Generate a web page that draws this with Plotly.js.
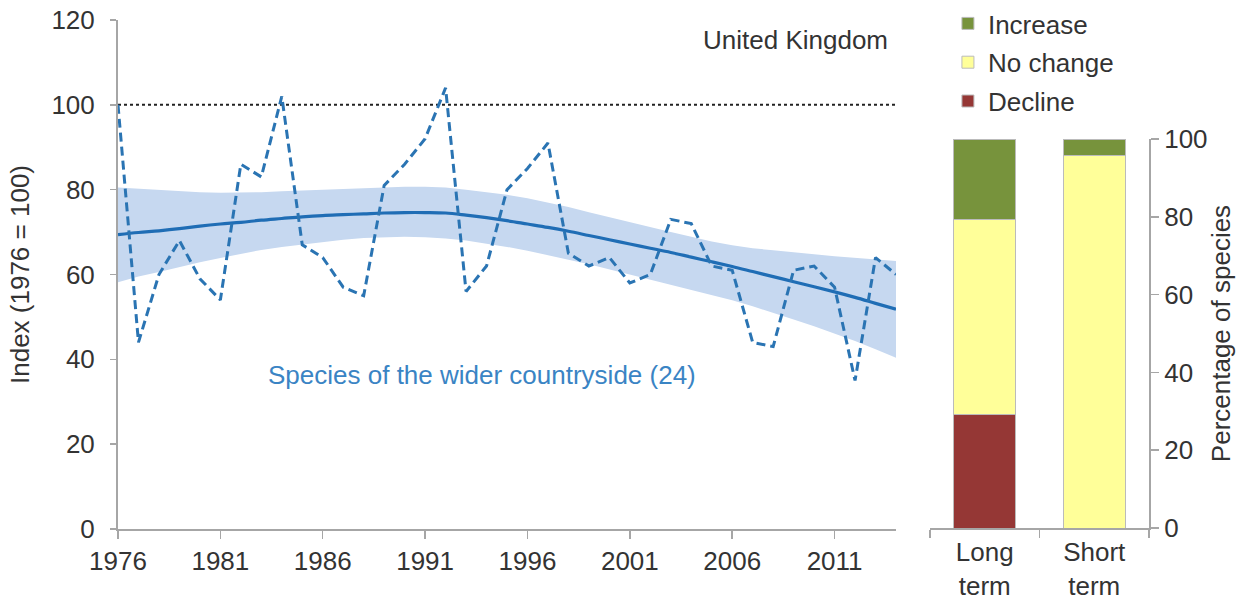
<!DOCTYPE html>
<html><head><meta charset="utf-8">
<script src="https://cdn.plot.ly/plotly-3.0.1.min.js"></script>
<style>html,body{margin:0;padding:0;background:#fff}#chart{width:1244px;height:605px}</style>
</head><body><div id="chart"></div>
<script>
const years = [1976,1977,1978,1979,1980,1981,1982,1983,1984,1985,1986,1987,1988,1989,1990,1991,1992,1993,1994,1995,1996,1997,1998,1999,2000,2001,2002,2003,2004,2005,2006,2007,2008,2009,2010,2011,2012,2013,2014];
const indexValues = [100,44,60,68,59,54,86,83,102,67,64,57,55,81,86,92,104,56,62,80,85,91,65,62,64,58,60,73,72,62,61,44,43,61,62,57,35,64,60];
const trend = [69.4,69.9,70.3,70.8,71.4,71.9,72.3,72.8,73.2,73.6,73.9,74.1,74.3,74.5,74.6,74.6,74.5,74.0,73.4,72.7,71.9,71.1,70.2,69.2,68.2,67.2,66.2,65.2,64.1,63.0,61.9,60.7,59.5,58.3,57.1,55.9,54.6,53.2,51.8];
const upper = [80.5,80.2,79.9,79.6,79.4,79.3,79.3,79.4,79.6,79.8,80.0,80.2,80.4,80.6,80.7,80.7,80.5,80.0,79.4,78.8,78.0,77.0,75.9,74.7,73.5,72.3,71.1,70.0,68.9,67.8,66.9,66.2,65.7,65.3,64.8,64.3,63.9,63.5,63.2];
const lower = [58.2,59.5,60.6,61.8,62.9,63.9,64.9,65.8,66.5,67.1,67.7,68.2,68.6,68.8,68.9,68.8,68.5,68.0,67.3,66.5,65.6,64.6,63.5,62.4,61.2,60.0,58.8,57.6,56.4,55.1,53.9,52.5,51.0,49.4,47.8,46.1,44.3,42.4,40.4];
const baseline = 100;

const barCategories = ['Long<br>term', 'Short<br>term'];
const decline = [29.2, 0];
const noChange = [50.0, 95.8];
const increase = [20.8, 4.2];

const font = 'Liberation Sans, Arial, sans-serif';
const grey = '#a6a6a6';
const txt = '#333';
const fs = 26;

const traces = [
  {x: years, y: upper, type: 'scatter', mode: 'lines', line: {width: 0, color: 'rgba(0,0,0,0)'}, showlegend: false, hoverinfo: 'skip', xaxis: 'x', yaxis: 'y'},
  {x: years, y: lower, type: 'scatter', mode: 'lines', fill: 'tonexty', fillcolor: '#c6d8f0', line: {width: 0, color: 'rgba(0,0,0,0)'}, showlegend: false, hoverinfo: 'skip', xaxis: 'x', yaxis: 'y'},
  {x: [years[0], years[years.length-1]], y: [baseline, baseline], type: 'scatter', mode: 'lines', line: {color: '#222', width: 2, dash: 'dot'}, showlegend: false, xaxis: 'x', yaxis: 'y'},
  {x: years, y: trend, type: 'scatter', mode: 'lines', line: {color: '#1f6db5', width: 3.2, shape: 'spline'}, showlegend: false, xaxis: 'x', yaxis: 'y'},
  {x: years, y: indexValues, type: 'scatter', mode: 'lines', line: {color: '#2a74b3', width: 3, dash: '9px,5px'}, showlegend: false, xaxis: 'x', yaxis: 'y'},
  {x: barCategories, y: decline, type: 'bar', name: 'Decline', legendrank: 3, marker: {color: '#953735', line: {color: '#bbbbbb', width: 1}}, xaxis: 'x2', yaxis: 'y2', legendgroup: 'd'},
  {x: barCategories, y: noChange, type: 'bar', name: 'No change', legendrank: 2, marker: {color: '#ffff99', line: {color: '#bbbbbb', width: 1}}, xaxis: 'x2', yaxis: 'y2', legendgroup: 'n'},
  {x: barCategories, y: increase, type: 'bar', name: 'Increase', legendrank: 1, marker: {color: '#77933c', line: {color: '#bbbbbb', width: 1}}, xaxis: 'x2', yaxis: 'y2', legendgroup: 'i'}
];

const layout = {
  width: 1244, height: 605,
  margin: {l: 0, r: 0, t: 0, b: 0, autoexpand: false},
  paper_bgcolor: '#fff', plot_bgcolor: '#fff',
  font: {family: font, size: fs, color: txt},
  barmode: 'stack', bargap: 0.43,
  showlegend: true,
  legend: {x: 0.762, y: 1.0, xanchor: 'left', yanchor: 'top', traceorder: 'grouped', tracegroupgap: 2,
           font: {size: fs, color: txt}, itemwidth: 30, bgcolor: 'rgba(0,0,0,0)'},
  xaxis: {domain: [118/1244, 896/1244], range: [1976, 2014], tickvals: [1976,1981,1986,1991,1996,2001,2006,2011],
          showgrid: false, zeroline: false, showline: true, linecolor: grey, linewidth: 2,
          ticks: 'outside', ticklen: 8, tickcolor: grey, tickwidth: 1.5, tickfont: {size: fs, color: txt}},
  yaxis: {domain: [(605-529)/605, (605-20)/605], range: [0, 120], dtick: 20,
          showgrid: false, zeroline: false, showline: true, linecolor: grey, linewidth: 2,
          ticks: 'outside', ticklen: 6, tickcolor: grey, tickwidth: 1.5, tickfont: {size: fs, color: txt},
          ticklabelstandoff: 10,
          title: {text: 'Index (1976 = 100)', font: {size: fs, color: txt}, standoff: 14}},
  xaxis2: {domain: [930/1244, 1149/1244], range: [-0.5, 1.5], anchor: 'y2', type: 'category',
           showgrid: false, zeroline: false, showline: true, linecolor: grey, linewidth: 2,
           ticks: 'outside', tickson: 'boundaries', ticklen: 8, tickcolor: grey, tickwidth: 1.5,
           tickfont: {size: fs, color: txt}},
  yaxis2: {domain: [(605-528)/605, (605-139)/605], range: [0, 100], dtick: 20, anchor: 'x2', side: 'right',
           showgrid: false, zeroline: false, showline: true, linecolor: grey, linewidth: 2,
           ticks: 'outside', ticklen: 8, tickcolor: grey, tickwidth: 1.5, tickfont: {size: fs, color: txt},
           title: {text: 'Percentage of species', font: {size: fs, color: txt}, standoff: 5}},
  annotations: [
    {xref: 'x', yref: 'y', x: 2013.7, y: 115.3, text: 'United Kingdom', showarrow: false, xanchor: 'right', yanchor: 'middle',
     font: {size: fs, color: txt}},
    {xref: 'x', yref: 'y', x: 1993.8, y: 36.3, text: 'Species of the wider countryside (24)', showarrow: false, xanchor: 'center', yanchor: 'middle',
     font: {size: fs, color: '#3a84c4'}}
  ]
};

Plotly.newPlot('chart', traces, layout, {displayModeBar: false, staticPlot: true});
</script></body></html>
